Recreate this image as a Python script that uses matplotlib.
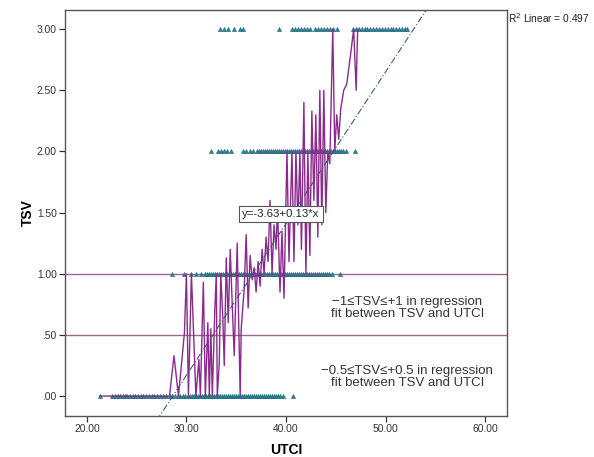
#!/usr/bin/env python3
"""TSV vs UTCI scatter with regression line, SPSS look."""

import matplotlib

matplotlib.use("Agg")

import matplotlib.pyplot as plt

plt.rcParams["font.family"] = ["Liberation Sans", "DejaVu Sans"]

# triangles (UTCI values) for each TSV level
TSV0_X = [21.3, 22.5, 22.8, 23.1, 23.3, 23.6, 23.8, 24.0, 24.3, 24.6, 24.8, 25.1,
          25.4, 25.6, 25.9, 26.2, 26.5, 26.7, 27.0, 27.3, 27.6, 27.9, 28.3, 28.6,
          28.9, 29.2, 29.4, 29.7, 29.9, 30.2, 30.4, 30.6, 30.8, 31.0, 31.2, 31.4,
          31.6, 31.8, 32.0, 32.2, 32.4, 32.6, 32.8, 33.0, 33.2, 33.4, 33.6, 33.8,
          34.0, 34.2, 34.4, 34.6, 34.8, 35.0, 35.2, 35.4, 35.6, 35.8, 36.0, 36.2,
          36.4, 36.6, 36.8, 37.0, 37.2, 37.4, 37.6, 37.8, 38.0, 38.2, 38.4, 38.6,
          38.8, 39.0, 39.2, 39.4, 39.7, 40.7]
TSV1_X = [28.6, 29.8, 30.5, 31.0, 31.5, 31.9, 32.1, 32.3, 32.5, 32.7, 32.9, 33.1,
          33.3, 33.5, 33.7, 33.9, 34.1, 34.3, 34.5, 34.7, 34.9, 35.1, 35.3, 35.5,
          35.7, 35.9, 36.1, 36.3, 36.5, 36.7, 36.9, 37.1, 37.3, 37.5, 37.7, 37.9,
          38.1, 38.3, 38.5, 38.7, 38.9, 39.1, 39.3, 39.5, 39.7, 39.9, 40.1, 40.3,
          40.5, 40.7, 40.9, 41.1, 41.3, 41.5, 41.7, 41.9, 42.1, 42.3, 42.5, 42.7,
          42.9, 43.1, 43.3, 43.5, 43.7, 43.9, 44.1, 44.3, 44.6, 45.4]
TSV2_X = [32.5, 33.2, 33.5, 33.8, 34.1, 34.5, 35.7, 36.0, 36.4, 36.7, 37.1, 37.3,
          37.5, 37.7, 37.9, 38.1, 38.3, 38.5, 38.7, 38.9, 39.1, 39.3, 39.5, 39.7,
          39.9, 40.1, 40.3, 40.5, 40.7, 40.9, 41.1, 41.3, 41.5, 41.7, 41.9, 42.1,
          42.3, 42.5, 42.7, 42.9, 43.1, 43.3, 43.5, 43.7, 43.9, 44.1, 44.3, 44.5,
          44.7, 44.9, 45.1, 45.3, 45.5, 45.7, 46.0, 46.9]
TSV3_X = [33.4, 33.8, 34.2, 34.8, 35.4, 35.7, 39.3, 40.6, 40.9, 41.2, 41.5, 41.8,
          42.1, 42.4, 42.9, 43.2, 43.5, 43.8, 44.1, 44.4, 44.7, 45.1, 46.7, 47.0,
          47.3, 47.6, 47.9, 48.1, 48.4, 48.7, 49.0, 49.3, 49.6, 49.9, 50.2, 50.5,
          50.8, 51.1, 51.4, 51.7, 52.0, 52.2]

# zigzag line (UTCI, TSV) vertices
LINE_X = [21.3, 28.3, 28.75, 29.2, 29.8, 30.0, 30.2, 30.5, 30.95, 31.25, 31.4, 31.7,
          31.9, 32.15, 32.3, 32.45, 32.6, 32.85, 33.0, 33.1, 33.3, 33.45, 33.65, 33.8,
          34.0, 34.2, 34.4, 34.6, 34.8, 35.1, 35.25, 35.4, 35.5, 35.8, 36.0, 36.2,
          36.4, 36.6, 36.8, 37.0, 37.2, 37.4, 37.6, 37.8, 38.0, 38.2, 38.4, 38.6,
          38.8, 39.0, 39.15, 39.4, 39.6, 39.8, 40.1, 40.3, 40.6, 40.8, 41.0, 41.2,
          41.4, 41.55, 41.8, 42.0, 42.2, 42.4, 42.6, 42.8, 43.0, 43.2, 43.4, 43.6,
          43.8, 44.0, 44.2, 44.4, 44.7, 44.9, 45.1, 45.3, 45.5, 45.8, 46.1, 46.5,
          46.8, 47.05, 47.2]
LINE_Y = [0.0, 0.0, 0.33, 0.0, 0.52, 1.0, 0.0, 1.0, 0.0, 0.3, 0.0, 0.93,
          0.0, 0.6, 0.0, 0.55, 0.0, 0.7, 1.0, 0.0, 0.27, 1.0, 0.65, 0.25,
          1.13, 0.6, 1.2, 0.75, 0.33, 1.25, 0.6, 0.0, 0.55, 0.87, 1.32, 0.72,
          1.15, 0.95, 1.05, 0.85, 1.1, 0.9, 1.2, 1.0, 1.3, 1.1, 1.6, 1.0,
          1.4, 1.2, 1.55, 0.85, 1.35, 0.8, 2.0, 1.1, 2.0, 1.1, 2.0, 1.4,
          2.0, 1.2, 2.4, 1.0, 2.0, 1.15, 2.33, 1.6, 2.3, 1.3, 2.5, 1.4,
          2.5, 1.5, 2.0, 1.9, 3.0, 2.0, 2.3, 2.1, 2.35, 2.5, 2.55, 2.8,
          3.0, 2.5, 3.0]

# fitted line as drawn (intercept, slope)
FIT_A = -3.55
FIT_B = 0.124
FIT_X = [27.0, 56.0]

X_TICKS = [20, 30, 40, 50, 60]
X_LABELS = ["20.00", "30.00", "40.00", "50.00", "60.00"]
Y_TICKS = [0.0, 0.5, 1.0, 1.5, 2.0, 2.5, 3.0]
Y_LABELS = [".00", ".50", "1.00", "1.50", "2.00", "2.50", "3.00"]

fig = plt.figure(figsize=(5.94, 4.57), dpi=100)
ax = fig.add_axes([0.1094, 0.0897, 0.7441, 0.8893])

for level, xs in zip([0, 1, 2, 3], [TSV0_X, TSV1_X, TSV2_X, TSV3_X]):
    ax.plot(xs, [level] * len(xs), linestyle="none", marker="^", markersize=3.0,
            markerfacecolor="#2f8094", markeredgecolor="#24687a", markeredgewidth=0.4,
            zorder=3)

ax.axhline(1.0, color="#9a6a90", linewidth=1.0, zorder=2)
ax.axhline(0.5, color="#9a6a90", linewidth=1.0, zorder=2)

ax.plot(LINE_X, LINE_Y, color="#8a2a8c", linewidth=1.0, zorder=4)

ax.plot(FIT_X, [FIT_A + FIT_B * x for x in FIT_X], color="#3d5d72", linewidth=0.8,
        linestyle=(0, (6, 2, 1, 2)), zorder=5)

ax.text(39.5, 1.49, "y=-3.63+0.13*x", fontsize=8.2, ha="center", va="center",
        color="#222222", zorder=6,
        bbox=dict(boxstyle="square,pad=0.28", facecolor="white", edgecolor="#555555",
                  linewidth=0.8))

ax.text(52.2, 0.72, "\u22121\u2264TSV\u2264+1 in regression\nfit between TSV and UTCI",
        fontsize=9.5, ha="center", va="center", color="#333333", linespacing=1.05)
ax.text(52.2, 0.155, "\u22120.5\u2264TSV\u2264+0.5 in regression\nfit between TSV and UTCI",
        fontsize=9.5, ha="center", va="center", color="#333333", linespacing=1.05)

fig.text(508 / 594, 1 - 18 / 457, "R$^2$ Linear = 0.497", fontsize=7.3,
         ha="left", va="center", color="#222222")

ax.set_xlim(17.8, 62.2)
ax.set_ylim(-0.163, 3.16)
ax.set_xticks(X_TICKS)
ax.set_xticklabels(X_LABELS)
ax.set_yticks(Y_TICKS)
ax.set_yticklabels(Y_LABELS)
ax.tick_params(direction="out", length=4, width=0.9, labelsize=7.4, colors="#333333",
               pad=2)
for spine in ax.spines.values():
    spine.set_color("#555555")
    spine.set_linewidth(1.0)

ax.set_xlabel("UTCI", fontsize=10, fontweight="bold", labelpad=6)
ax.set_ylabel("TSV", fontsize=10, fontweight="bold", labelpad=1)

fig.savefig("out.png", dpi=100)
